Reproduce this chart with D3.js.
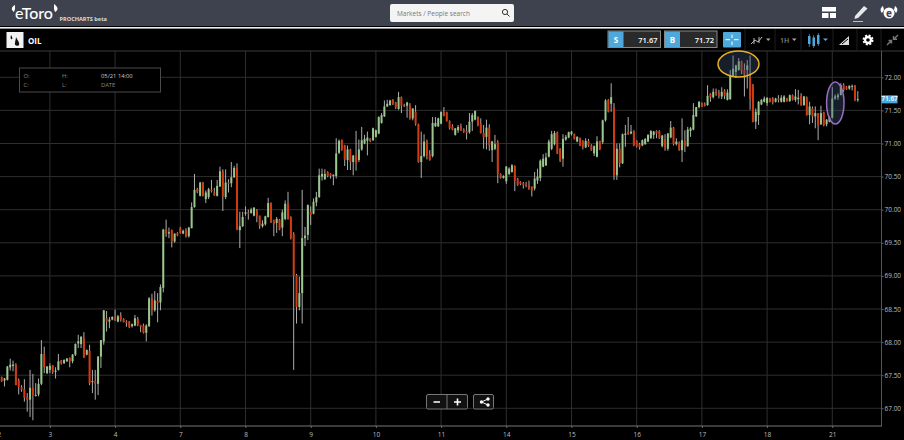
<!DOCTYPE html>
<html>
<head>
<meta charset="utf-8">
<script src="https://cdn.jsdelivr.net/npm/d3@7"></script>
<style>
  html, body { margin: 0; padding: 0; background: #000; overflow: hidden; }
  svg { display: block; font-family: "Open Sans", sans-serif; }
</style>
</head>
<body>
<svg id="chart" width="904" height="440"></svg>
<script>
let opens = [
  67.47,67.42,67.43,67.62,67.64,67.66,67.42,67.32,67.29,67.17,
  67.13,67.31,67.19,67.21,67.37,67.82,67.53,67.58,67.65,67.55,
  67.58,67.72,67.68,67.71,67.76,67.71,67.81,67.98,67.97,68.06,
  67.81,67.87,67.40,67.41,67.37,67.78,68.01,68.36,68.31,68.34,
  68.37,68.31,68.40,68.35,68.31,68.31,68.24,68.25,68.35,68.26,
  68.25,68.14,68.24,68.66,68.48,68.62,68.60,68.82,69.70,69.64,
  69.69,69.52,69.65,69.72,69.64,69.69,69.60,69.72,70.04,70.31,
  70.21,70.41,70.16,70.19,70.30,70.26,70.21,70.35,70.58,70.19,
  70.41,70.40,70.49,70.63,69.69,69.75,69.94,69.96,69.95,69.91,
  69.99,69.91,69.75,69.78,69.89,70.10,69.84,69.80,69.85,69.73,
  69.86,70.09,69.89,69.63,69.01,68.53,68.74,69.57,69.62,69.97,
  69.94,70.11,70.19,70.50,70.46,70.57,70.54,70.51,70.51,70.86,
  71.05,70.97,70.75,70.91,70.72,70.82,70.75,70.91,71.00,71.04,
  71.07,71.05,71.10,71.15,71.31,71.41,71.56,71.58,71.66,71.62,
  71.52,71.70,71.58,71.57,71.57,71.38,71.48,71.29,70.72,70.81,
  71.03,70.84,70.81,71.26,71.26,71.30,71.47,71.47,71.34,71.26,
  71.13,71.20,71.26,71.21,71.19,71.17,71.33,71.36,71.40,71.30,
  71.16,71.10,71.24,70.90,70.92,71.02,70.54,70.48,70.43,70.54,
  70.57,70.66,70.47,70.42,70.40,70.38,70.37,70.35,70.32,70.44,
  70.48,70.65,70.67,70.80,70.92,70.99,71.17,70.92,70.77,71.06,
  71.09,71.14,71.14,71.03,71.08,71.04,70.94,71.04,70.97,70.85,
  70.80,71.04,71.02,71.35,71.66,71.60,71.55,70.52,70.92,70.70,
  71.13,71.18,71.15,71.19,71.04,70.99,70.97,70.99,71.03,71.08,
  71.13,71.19,71.19,70.96,71.07,70.92,71.09,71.24,70.99,71.01,
  70.90,71.04,70.96,71.19,71.21,71.41,71.55,71.61,71.60,71.58,
  71.75,71.70,71.78,71.77,71.71,71.80,71.66,71.67,72.02,72.08,
  72.11,72.24,72.11,72.11,72.01,71.88,71.33,71.43,71.59,71.63,
  71.61,71.68,71.68,71.63,71.68,71.63,71.63,71.68,71.64,71.73,
  71.66,71.67,71.72,71.58,71.69,71.43,71.53,71.41,71.45,71.29,
  71.47,71.29,71.33,71.39,71.68,71.70,71.73,71.89,71.86,71.83,
  71.86,71.88,71.66
];
let highs = [
  67.48,67.46,67.64,67.75,67.72,67.68,67.45,67.35,67.44,67.23,
  67.58,67.52,67.38,67.45,68.03,67.93,67.64,67.68,67.65,67.62,
  67.82,67.73,67.74,67.76,67.77,67.82,67.98,68.11,68.09,68.15,
  67.89,67.96,67.58,67.58,67.79,68.03,68.48,68.47,68.38,68.39,
  68.49,68.41,68.45,68.36,68.33,68.32,68.28,68.41,68.38,68.26,
  68.28,68.27,68.68,68.73,68.77,68.74,68.87,69.71,69.85,69.73,
  69.70,69.64,69.66,69.74,69.70,69.72,69.74,70.11,70.54,70.33,
  70.42,70.42,70.29,70.33,70.45,70.33,70.45,70.65,70.61,70.61,
  70.46,70.72,70.66,70.70,69.97,69.97,70.05,70.00,70.03,70.04,
  70.01,69.91,69.84,69.91,70.18,70.11,69.85,69.89,69.86,70.00,
  70.14,70.27,69.90,69.66,69.03,68.99,70.30,69.74,70.08,70.05,
  70.17,70.27,70.62,70.62,70.61,70.58,70.55,70.53,71.08,71.06,
  71.06,70.98,70.97,70.92,70.82,71.19,71.06,71.25,71.13,71.18,
  71.08,71.24,71.21,71.41,71.46,71.65,71.66,71.66,71.67,71.63,
  71.78,71.71,71.60,71.63,71.61,71.53,71.58,71.30,71.18,71.14,
  71.06,70.90,71.40,71.40,71.39,71.48,71.55,71.48,71.35,71.29,
  71.23,71.28,71.30,71.23,71.28,71.46,71.46,71.50,71.41,71.38,
  71.28,71.36,71.29,71.04,71.13,71.05,70.55,70.52,70.66,70.64,
  70.69,70.67,70.48,70.43,70.42,70.42,70.44,70.35,70.57,70.62,
  70.76,70.84,70.86,71.06,71.19,71.19,71.18,70.93,71.14,71.13,
  71.18,71.19,71.15,71.11,71.09,71.05,71.08,71.07,70.99,70.97,
  71.11,71.04,71.36,71.67,71.67,71.91,71.61,71.00,71.00,71.15,
  71.28,71.40,71.28,71.20,71.05,71.01,71.06,71.08,71.14,71.20,
  71.19,71.20,71.20,71.13,71.14,71.16,71.34,71.25,71.08,71.03,
  71.38,71.20,71.25,71.25,71.61,71.55,71.64,71.62,71.62,71.88,
  71.76,71.83,71.83,71.81,71.85,71.82,71.82,72.11,72.33,72.19,
  72.29,72.25,72.21,72.26,72.33,71.90,71.53,71.64,71.67,71.71,
  71.70,71.69,71.70,71.69,71.73,71.73,71.73,71.69,71.74,71.74,
  71.82,71.81,71.76,71.72,71.71,71.63,71.56,71.56,71.46,71.57,
  71.48,71.37,71.41,71.85,71.74,71.76,71.91,71.91,71.87,71.88,
  71.89,71.88,71.79
];
let lows = [
  67.40,67.33,67.42,67.57,67.56,67.35,67.21,67.25,67.10,66.95,
  66.87,66.82,67.18,67.18,67.35,67.53,67.52,67.53,67.52,67.45,
  67.57,67.66,67.67,67.70,67.62,67.68,67.79,67.91,67.91,67.76,
  67.80,67.35,67.23,67.13,67.20,67.61,67.96,68.16,68.21,68.33,
  68.32,68.30,68.31,68.30,68.23,68.21,68.22,68.24,68.24,68.15,
  68.13,68.01,68.23,68.40,68.46,68.30,68.48,68.75,69.59,69.57,
  69.43,69.50,69.60,69.64,69.63,69.58,69.58,69.72,70.03,70.25,
  70.20,70.20,70.10,70.16,70.26,70.21,70.20,70.35,69.98,70.16,
  70.26,70.34,70.48,69.69,69.42,69.74,69.91,69.85,69.94,69.90,
  69.81,69.71,69.73,69.76,69.88,69.80,69.60,69.65,69.69,69.60,
  69.84,69.85,69.55,67.58,68.28,68.48,68.28,69.45,69.54,69.77,
  69.93,70.05,70.18,70.44,70.45,70.49,70.47,70.37,70.47,70.84,
  70.89,70.66,70.60,70.60,70.52,70.59,70.72,70.89,70.99,70.82,
  71.02,71.04,71.09,71.14,71.30,71.40,71.55,71.57,71.58,71.52,
  71.51,71.46,71.55,71.39,71.36,71.35,71.27,70.71,70.48,70.79,
  70.76,70.74,70.79,71.25,71.25,71.29,71.41,71.33,71.21,71.20,
  71.12,71.16,71.19,71.16,71.06,71.15,71.19,71.35,71.26,71.15,
  70.92,70.91,70.89,70.72,70.90,70.40,70.47,70.47,70.39,70.52,
  70.56,70.28,70.36,70.37,70.32,70.34,70.30,70.20,70.29,70.39,
  70.43,70.64,70.66,70.79,70.90,70.97,70.84,70.72,70.65,71.04,
  71.08,71.12,71.06,71.02,70.96,70.91,70.93,70.95,70.89,70.81,
  70.79,70.90,70.99,71.33,71.47,71.48,70.45,70.45,70.64,70.69,
  70.95,71.13,71.14,70.96,70.94,70.91,70.96,70.98,71.02,71.07,
  71.07,71.08,71.07,70.94,70.89,70.89,71.08,70.97,70.97,70.89,
  70.72,70.87,70.95,71.10,71.20,71.40,71.53,71.55,71.56,71.57,
  71.63,71.68,71.72,71.68,71.67,71.67,71.65,71.66,72.01,71.99,
  72.10,72.05,71.71,71.83,71.51,71.32,71.22,71.28,71.58,71.62,
  71.57,71.62,71.59,71.62,71.62,71.62,71.62,71.63,71.63,71.65,
  71.63,71.59,71.57,71.57,71.42,71.29,71.31,71.23,71.05,71.28,
  71.26,71.26,71.32,71.38,71.66,71.66,71.73,71.78,71.81,71.81,
  71.80,71.64,71.63
];
let closes = [
  67.41,67.45,67.63,67.66,67.66,67.35,67.32,67.28,67.16,67.13,
  67.31,67.20,67.20,67.37,67.82,67.62,67.63,67.64,67.55,67.57,
  67.71,67.68,67.73,67.75,67.71,67.81,67.97,68.01,68.08,67.77,
  67.88,67.38,67.41,67.37,67.78,68.03,68.48,68.31,68.34,68.38,
  68.33,68.39,68.34,68.30,68.29,68.23,68.27,68.36,68.26,68.23,
  68.14,68.25,68.66,68.48,68.63,68.59,68.83,69.70,69.64,69.66,
  69.52,69.64,69.61,69.65,69.68,69.60,69.73,70.04,70.30,70.27,
  70.41,70.21,70.26,70.31,70.28,70.22,70.36,70.58,70.20,70.41,
  70.39,70.49,70.63,69.70,69.75,69.89,69.96,69.94,70.00,70.03,
  69.90,69.76,69.79,69.90,70.10,69.81,69.78,69.86,69.70,69.96,
  70.09,69.86,69.57,69.00,68.53,68.74,69.57,69.61,70.07,69.92,
  70.12,70.19,70.52,70.54,70.54,70.51,70.51,70.53,70.85,71.04,
  70.91,70.76,70.91,70.72,70.82,70.71,70.91,71.05,71.07,71.09,
  71.04,71.23,71.20,71.40,71.43,71.56,71.60,71.65,71.60,71.55,
  71.70,71.57,71.56,71.62,71.38,71.53,71.29,70.72,70.81,71.03,
  70.82,70.75,71.31,71.31,71.38,71.48,71.42,71.34,71.23,71.21,
  71.23,71.25,71.20,71.18,71.16,71.33,71.43,71.49,71.28,71.16,
  71.09,71.24,70.97,71.03,70.99,70.54,70.48,70.51,70.65,70.62,
  70.67,70.44,70.37,70.39,70.37,70.36,70.32,70.29,70.47,70.50,
  70.74,70.77,70.79,71.03,71.14,71.16,70.85,70.74,71.07,71.10,
  71.17,71.18,71.07,71.10,70.97,70.95,71.04,70.97,70.90,70.96,
  71.03,70.91,71.35,71.65,71.48,71.70,70.52,70.92,70.70,71.14,
  71.15,71.14,71.18,70.97,70.96,70.94,71.05,71.07,71.13,71.19,
  71.18,71.15,71.08,71.12,70.94,71.15,71.24,70.99,71.03,70.90,
  71.05,70.96,71.21,71.23,71.43,71.55,71.63,71.56,71.57,71.72,
  71.70,71.78,71.75,71.72,71.78,71.72,71.77,72.02,72.13,72.18,
  72.24,72.10,72.04,72.18,71.68,71.33,71.48,71.63,71.66,71.68,
  71.69,71.63,71.62,71.68,71.66,71.69,71.71,71.64,71.73,71.66,
  71.71,71.69,71.58,71.71,71.43,71.56,71.41,71.46,71.28,71.46,
  71.28,71.36,71.39,71.68,71.71,71.73,71.88,71.81,71.82,71.87,
  71.87,71.66,71.67
];

let dayLabels = ["2","3","4","7","8","9","10","11","14","15","16","17","18","21"],
    dayBars = [-1,17,40,63,86,109,132,155,178,201,224,247,270,293], // bar number each day label sits on
    priceTicks = [67,67.5,68,68.5,69,69.5,70,70.5,71,71.5,72],
    lastPrice = 71.67;

let svg = d3.select("#chart"),
    width = +svg.attr("width"),
    height = +svg.attr("height");

let axisX = 881.5, axisY = 426, topY = 51;

let x = d3.scaleLinear().domain([0, 23]).range([1.7, 66.9]),
    y = d3.scaleLinear().domain([67, 72]).range([408.3, 77.3]);

svg.append("rect").attr("width", width).attr("height", height).attr("fill", "#000");

// grid
svg.append("g").selectAll("line")
  .data(dayBars)
  .enter().append("line")
    .attr("x1", d => x(d)).attr("x2", d => x(d))
    .attr("y1", topY).attr("y2", axisY)
    .attr("stroke", "#2e2e2e");

svg.append("g").selectAll("line")
  .data(priceTicks)
  .enter().append("line")
    .attr("x1", 0).attr("x2", axisX)
    .attr("y1", d => y(d)).attr("y2", d => y(d))
    .attr("stroke", "#2e2e2e");

svg.append("line")
    .attr("x1", 0).attr("x2", width)
    .attr("y1", topY).attr("y2", topY)
    .attr("stroke", "#3a3a3a");

// candles
let bars = svg.append("g").selectAll("g")
  .data(opens)
  .enter().append("g");

bars.append("line")
    .attr("x1", (d, i) => x(i)).attr("x2", (d, i) => x(i))
    .attr("y1", (d, i) => y(highs[i])).attr("y2", (d, i) => y(lows[i]))
    .attr("stroke", "#aeaeae")
    .attr("stroke-width", 1);

bars.append("rect")
    .attr("x", (d, i) => x(i) - 1)
    .attr("width", 2)
    .attr("y", (d, i) => y(Math.max(opens[i], closes[i])))
    .attr("height", (d, i) => Math.max(1, Math.abs(y(opens[i]) - y(closes[i]))))
    .attr("fill", (d, i) => closes[i] >= opens[i] ? "#9bc78e" : "#d23a10");

// annotations on top of the candles
svg.append("ellipse")
    .attr("cx", 738.5).attr("cy", 64).attr("rx", 20.5).attr("ry", 13)
    .attr("fill", "#3c5578").attr("fill-opacity", 0.35)
    .attr("stroke", "#e8b31e").attr("stroke-width", 1.5);

svg.append("ellipse")
    .attr("cx", 835.3).attr("cy", 103).attr("rx", 8.7).attr("ry", 21)
    .attr("fill", "#3c5578").attr("fill-opacity", 0.35)
    .attr("stroke", "#9a6cc2").attr("stroke-width", 1.5);

// axes
let xAxis = d3.axisBottom(x)
    .tickValues(dayBars)
    .tickFormat((d, i) => dayLabels[i])
    .tickSize(2)
    .tickPadding(4);

let yAxis = d3.axisRight(y)
    .tickValues(priceTicks)
    .tickFormat(d3.format(".2f"))
    .tickSize(2)
    .tickPadding(1);

let gx = svg.append("g").attr("transform", "translate(0," + axisY + ")").call(xAxis);
gx.select(".domain").remove();
svg.append("line").attr("x1", 0).attr("x2", axisX + 0.5).attr("y1", axisY).attr("y2", axisY)
    .attr("stroke", "#777").attr("stroke-width", 1.2);

let gy = svg.append("g").attr("transform", "translate(" + axisX + ",0)").call(yAxis);
gy.select(".domain").remove();
svg.append("line").attr("x1", axisX).attr("x2", axisX).attr("y1", topY).attr("y2", axisY)
    .attr("stroke", "#555");

[gx, gy].forEach(function(g) {
  g.selectAll("text").attr("fill", "#bdbdbd").style("font-size", "6.5px").style("font-family", '"Open Sans", sans-serif');
  g.selectAll("line").attr("stroke", "#666");
});

// last price tag
svg.append("rect").attr("x", axisX).attr("y", y(lastPrice) - 3.8).attr("width", 16).attr("height", 8)
    .attr("fill", "#4fa8dc");
svg.append("text").attr("x", axisX + 8).attr("y", y(lastPrice) + 2.3).attr("text-anchor", "middle")
    .attr("fill", "#fff").style("font-size", "6.5px").style("font-weight", 600).text(d3.format(".2f")(lastPrice));

// header
svg.append("rect").attr("width", width).attr("height", 26).attr("fill", "#3e414e");
svg.append("rect").attr("y", 27).attr("width", width).attr("height", 1.6).attr("fill", "#eee");

svg.append("text").attr("x", 15).attr("y", 19).attr("fill", "#fff")
    .style("font-family", "Lato, sans-serif").style("font-size", "16px").style("font-weight", 500).text("eToro");
svg.append("path").attr("fill", "#fff")
    .attr("d", "M15 5 C11 7 11 10 14 12 L15 9 Z M54 4 C58 7 59 10 55 12 L54 9 Z");
svg.append("text").attr("x", 59.5).attr("y", 20.5).attr("fill", "#ddd")
    .style("font-size", "5.6px").style("font-weight", 700).text("PROCHARTS beta");

// search box
svg.append("rect").attr("x", 390).attr("y", 4).attr("width", 124).attr("height", 18).attr("rx", 2).attr("fill", "#f4f4f4");
svg.append("text").attr("x", 397).attr("y", 15.5).attr("fill", "#777").style("font-size", "6.5px").text("Markets / People search");
svg.append("circle").attr("cx", 505).attr("cy", 12).attr("r", 2.6).attr("fill", "none").attr("stroke", "#333");
svg.append("line").attr("x1", 507).attr("y1", 14).attr("x2", 509.5).attr("y2", 16.5).attr("stroke", "#333");

// header icons
svg.append("path").attr("fill", "#fff")
    .attr("d", "M822 7H836V11.5H822Z M822 13H828.5V18H822Z M830 13H836V18H830Z");
svg.append("path").attr("fill", "#e8e8e8")
    .attr("d", "M855 16 L864 6 L867.5 8.5 L858 18 L854.5 19 Z M853 21 H863 V21.8 H853 Z");
svg.append("circle").attr("cx", 889).attr("cy", 13).attr("r", 5.5).attr("fill", "#fff");
svg.append("path").attr("fill", "#fff").attr("d", "M883 6 C880 8 880 11 882 13 L884 10 Z M895 6 C898 8 898 11 896 13 L894 10 Z");
svg.append("text").attr("x", 889).attr("y", 16.5).attr("text-anchor", "middle").attr("fill", "#3e414e")
    .style("font-size", "10px").style("font-weight", 700).text("e");

// toolbar
svg.append("rect").attr("x", 6.5).attr("y", 32).attr("width", 17).attr("height", 16).attr("fill", "#f2f2f2");
svg.append("path").attr("fill", "#111")
    .attr("d", "M11 35 C12 37 13 38 12 39 C11 40 10 38 11 35 Z M16 37 C18 41 20 43 19 45 C17 47 14 45 15 43 C15 41 16 39 16 37 Z");
svg.append("text").attr("x", 28).attr("y", 43.5).attr("fill", "#fff")
    .style("font-size", "8px").style("font-weight", 700).text("OIL");

function quote(px, letter, value) {
  svg.append("rect").attr("x", px).attr("y", 31).attr("width", 52.5).attr("height", 16.5)
      .attr("fill", "#2a2a2a").attr("stroke", "#888");
  svg.append("rect").attr("x", px + 0.5).attr("y", 31.5).attr("width", 15).attr("height", 15.5).attr("fill", "#4fa8dc");
  svg.append("text").attr("x", px + 8).attr("y", 42.5).attr("text-anchor", "middle").attr("fill", "#fff")
      .style("font-size", "8px").style("font-weight", 700).text(letter);
  svg.append("text").attr("x", px + 49.5).attr("y", 42.5).attr("text-anchor", "end").attr("fill", "#fff")
      .style("font-size", "7.5px").style("font-weight", 600).text(value);
}
quote(608, "S", "71.67");
quote(664.5, "B", "71.72");

svg.append("rect").attr("x", 723).attr("y", 32).attr("width", 18).attr("height", 15.5).attr("rx", 1).attr("fill", "#4fa8dc");
svg.append("path").attr("stroke", "#fff").attr("stroke-width", 1).attr("fill", "none")
    .attr("d", "M732 34.5V38 M732 41.5V45 M725.5 39.7H730 M734 39.7H738.5");

svg.append("g").selectAll("line")
  .data([745, 775, 801, 833, 857, 881])
  .enter().append("line")
    .attr("x1", d => d).attr("x2", d => d).attr("y1", 29).attr("y2", 51)
    .attr("stroke", "#1f1f1f");

svg.append("path").attr("fill", "none").attr("stroke", "#bbb")
    .attr("d", "M751 44 L755 40 L758 42 L762 37 M754 38V44 M759 37V43");
svg.append("path").attr("fill", "#aaa").attr("d", "M766 38.5H770.5L768.2 41Z");
svg.append("text").attr("x", 780).attr("y", 42.5).attr("fill", "#888").style("font-size", "7px").style("font-weight", 600).text("1H");
svg.append("path").attr("fill", "#aaa").attr("d", "M792 38.5H796.5L794.2 41Z");
svg.append("path").attr("fill", "#4fa8dc")
    .attr("d", "M808 36H810.5V44H808Z M812.5 37.5H815V46H812.5Z M817 35H819.5V44H817Z M808.9 34H809.6V47H808.9Z M813.4 35H814.1V48H813.4Z M817.9 33H818.6V46H817.9Z");
svg.append("path").attr("fill", "#4fa8dc").attr("d", "M823 38.5H828L825.5 41Z");
svg.append("path").attr("fill", "#ddd").attr("d", "M839 45 L849 36 V45 Z");
svg.append("path").attr("stroke", "#000").attr("fill", "none").attr("d", "M842 44 L848 39");
// gear: ring plus dashed teeth
svg.append("circle").attr("cx", 868).attr("cy", 40).attr("r", 3).attr("fill", "none").attr("stroke", "#fff").attr("stroke-width", 2.4);
svg.append("circle").attr("cx", 868).attr("cy", 40).attr("r", 4.7).attr("fill", "none").attr("stroke", "#fff")
    .attr("stroke-width", 1.6).attr("stroke-dasharray", "2.1 1.6");
svg.append("path").attr("stroke", "#777").attr("stroke-width", 1.4).attr("fill", "none")
    .attr("d", "M887 45 L891 41 M888.5 40.5H891.5V43.5 M898 35 L894 39 M893.5 36V39.3H897");

// ohlc readout
svg.append("rect").attr("x", 19.5).attr("y", 68).attr("width", 141).attr("height", 24)
    .attr("fill", "#000").attr("stroke", "#4a4a4a");

let readout = [[23.5, 78, "O:", "#888"], [62, 78, "H:", "#888"], [101, 78, "05/21 14:00", "#ccc"],
               [23.5, 86.5, "C:", "#888"], [62, 86.5, "L:", "#888"], [101, 86.5, "DATE", "#888"]];
svg.append("g").selectAll("text")
  .data(readout)
  .enter().append("text")
    .attr("x", d => d[0]).attr("y", d => d[1])
    .attr("fill", d => d[3])
    .style("font-size", "5.8px")
    .text(d => d[2]);

// zoom and share buttons
svg.append("rect").attr("x", 426.5).attr("y", 394.5).attr("width", 41).attr("height", 14.5).attr("rx", 1.5)
    .attr("fill", "#111").attr("stroke", "#777");
svg.append("line").attr("x1", 447).attr("x2", 447).attr("y1", 395).attr("y2", 409).attr("stroke", "#777");
svg.append("rect").attr("x", 473.5).attr("y", 394.5).attr("width", 20).attr("height", 14.5).attr("rx", 1.5)
    .attr("fill", "#111").attr("stroke", "#777");
svg.append("path").attr("stroke", "#fff").attr("stroke-width", 1.6).attr("fill", "none")
    .attr("d", "M433.5 402H440 M454 402H461 M457.5 398.5V405.5");
svg.append("path").attr("stroke", "#fff").attr("fill", "none").attr("d", "M488 399 L481.5 402 L488 405");
svg.append("g").selectAll("circle")
  .data([[488, 399], [481.5, 402], [488, 405]])
  .enter().append("circle")
    .attr("cx", d => d[0]).attr("cy", d => d[1]).attr("r", 1.7).attr("fill", "#fff");
</script>
</body>
</html>
